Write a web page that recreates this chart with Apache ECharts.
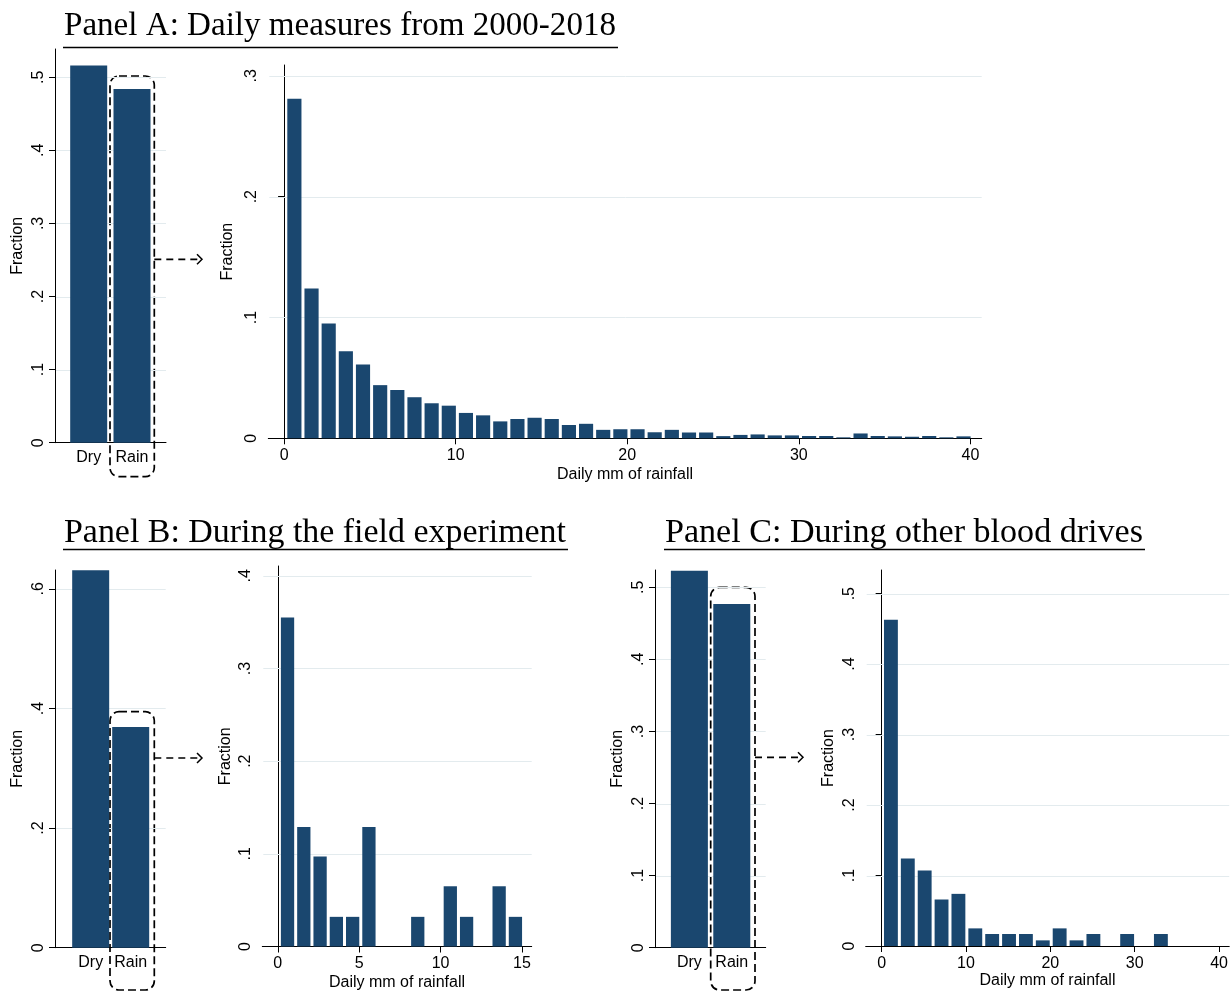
<!DOCTYPE html>
<html>
<head>
<meta charset="utf-8">
<script src="https://cdn.jsdelivr.net/npm/echarts@6/dist/echarts.min.js"></script>
<style>
  html, body { margin: 0; padding: 0; background: #ffffff; }
  #chart { width: 1231px; height: 992px; }
</style>
</head>
<body>
<div id="chart"></div>
<script>
// ---- Data -------------------------------------------------------------
// Share of days that were dry vs. rainy
const dayTypes = ['Dry', 'Rain'];
const shareA = [0.516, 0.484];   // 2000-2018
const shareB = [0.631, 0.369];   // field experiment
const shareC = [0.523, 0.477];   // other blood drives

// Distribution of rainfall (mm) on rainy days
const binStartA = 0.1, binWidthA = 1;
const histA = [0.281, 0.124, 0.095, 0.072, 0.061, 0.044, 0.040, 0.034, 0.029, 0.027,
               0.021, 0.019, 0.014, 0.016, 0.017, 0.016, 0.011, 0.012, 0.007, 0.0075,
               0.0075, 0.005, 0.007, 0.0048, 0.0048, 0.0018, 0.0028, 0.0032, 0.0024, 0.0024,
               0.0019, 0.0019, 0.0008, 0.004, 0.0019, 0.0016, 0.0013, 0.0019, 0.0008, 0.0016];

const binStartB = 0.1, binWidthB = 1;
const histB = [0.355, 0.129, 0.097, 0.032, 0.032, 0.129, 0, 0, 0.032, 0, 0.065, 0.032, 0, 0.065, 0.032];

const binStartC = 0.1, binWidthC = 2;
const histC = [0.463, 0.124, 0.107, 0.066, 0.074, 0.025, 0.017, 0.017, 0.017, 0.008,
               0.025, 0.008, 0.017, 0, 0.017, 0, 0.017];

// Axis tick values
const yTicksBarsA = [0, 0.1, 0.2, 0.3, 0.4, 0.5];
const yTicksHistA = [0, 0.1, 0.2, 0.3];
const yTicksBarsB = [0, 0.2, 0.4, 0.6];
const yTicksHistB = [0, 0.1, 0.2, 0.3, 0.4];
const yTicksBarsC = [0, 0.1, 0.2, 0.3, 0.4, 0.5];
const yTicksHistC = [0, 0.1, 0.2, 0.3, 0.4, 0.5];
const xTicksHistA = [0, 10, 20, 30, 40];
const xTicksHistB = [0, 5, 10, 15];
const xTicksHistC = [0, 10, 20, 30, 40];

const titles = [
  'Panel A: Daily measures from 2000-2018',
  'Panel B: During the field experiment',
  'Panel C: During other blood drives'
];

// ---- Styling ----------------------------------------------------------
const NAVY = '#1a476f';
const GRID_COLOR = '#e3ebee';
const SANS = '"Liberation Sans", Arial, Helvetica, sans-serif';
const SERIF = '"Liberation Serif", "Times New Roman", serif';
const FS = 16;

// Plot areas (px) and axis extents for the six panels
const layout = [
  { grid: { left: 55,    top: 49,  width: 111,   height: 393.7 }, x: [0.222, 2.785], yMax: 0.5387 },
  { grid: { left: 268.3, top: 65,  width: 713.4, height: 373.3 }, x: [-0.92, 40.66], yMax: 0.309 },
  { grid: { left: 55,    top: 570, width: 110.7, height: 377.7 }, x: [0.108, 2.875], yMax: 0.6316 },
  { grid: { left: 262.3, top: 566, width: 269.4, height: 382.3 }, x: [-0.95, 15.6],  yMax: 0.4106 },
  { grid: { left: 655,   top: 570, width: 110.7, height: 377.7 }, x: [0.189, 2.80],  yMax: 0.524 },
  { grid: { left: 865.7, top: 570, width: 364.3, height: 376 },   x: [-1.89, 41.2],  yMax: 0.5336 }
];

const fracLabel = v => (v === 0 ? '0' : String(v).replace(/^0\./, '.'));
const textStyle = { color: '#000', fontFamily: SANS, fontSize: FS };

function yAxis(i, ticks) {
  return {
    type: 'value', gridIndex: i, min: 0, max: layout[i].yMax,
    axisLine: { show: true, lineStyle: { color: '#000', width: 1 } },
    axisTick: { show: true, length: 6, customValues: ticks, lineStyle: { color: '#000', width: 1 } },
    axisLabel: Object.assign({ rotate: 90, customValues: ticks, formatter: fracLabel, margin: 8.5 }, textStyle),
    splitLine: { show: false },
    name: 'Fraction', nameLocation: 'middle', nameRotate: 90, nameGap: 29,
    nameTextStyle: textStyle
  };
}

function xAxisBars(i) {
  return {
    type: 'value', gridIndex: i, min: layout[i].x[0], max: layout[i].x[1],
    axisLine: { show: true, lineStyle: { color: '#000', width: 1 } },
    axisTick: { show: false },
    axisLabel: Object.assign({ customValues: [1, 2], formatter: v => dayTypes[v - 1], margin: 7 }, textStyle),
    splitLine: { show: false }
  };
}

function xAxisHist(i, ticks, nameGap) {
  return {
    type: 'value', gridIndex: i, min: layout[i].x[0], max: layout[i].x[1],
    axisLine: { show: true, lineStyle: { color: '#000', width: 1 } },
    axisTick: { show: true, length: 6, customValues: ticks, lineStyle: { color: '#000', width: 1 } },
    axisLabel: Object.assign({ customValues: ticks, formatter: v => String(v), margin: 9.5 }, textStyle),
    splitLine: { show: false },
    name: 'Daily mm of rainfall', nameLocation: 'middle', nameGap: nameGap,
    nameTextStyle: textStyle
  };
}

// Horizontal reference lines at each labelled tick above zero
function gridLines(i, ticks) {
  return {
    type: 'custom', xAxisIndex: i, yAxisIndex: i, silent: true, z: 1, clip: false,
    data: ticks.filter(v => v > 0).map(v => [layout[i].x[0], v]),
    encode: { x: 0, y: 1 },
    renderItem: (params, api) => {
      const y = Math.round(api.coord([api.value(0), api.value(1)])[1]) + 0.5;
      const cs = params.coordSys;
      return { type: 'line', shape: { x1: cs.x + 1, y1: y, x2: cs.x + cs.width, y2: y },
               style: { stroke: GRID_COLOR, lineWidth: 1 } };
    }
  };
}

// Dry / Rain bars
function shareBars(i, values) {
  return {
    type: 'custom', xAxisIndex: i, yAxisIndex: i, silent: true, z: 2,
    data: values.map((v, k) => [k + 1, v]),
    encode: { x: 0, y: 1 },
    renderItem: (params, api) => {
      const top = api.coord([api.value(0), api.value(1)]);
      const base = api.coord([api.value(0), 0]);
      return { type: 'rect', shape: { x: top[0] - 18.5, y: top[1], width: 37, height: base[1] - top[1] },
               style: { fill: NAVY } };
    }
  };
}

// Rainfall histogram bars
function histBars(i, values, start, width) {
  return {
    type: 'custom', xAxisIndex: i, yAxisIndex: i, silent: true, z: 2,
    data: values.map((v, k) => [start + k * width, start + (k + 1) * width, v]),
    encode: { x: [0, 1], y: 2 },
    renderItem: (params, api) => {
      if (!(api.value(2) > 0)) return null;
      const a = api.coord([api.value(0), 0]);
      const b = api.coord([api.value(1), api.value(2)]);
      return { type: 'rect', shape: { x: a[0] + 1.5, y: b[1], width: b[0] - a[0] - 3, height: a[1] - b[1] },
               style: { fill: NAVY } };
    }
  };
}

// Panel headings with a rule underneath; each heading is fitted to its rule length
const measureCtx = document.createElement('canvas').getContext('2d');
const TITLE_FONT = '33.5px ' + SERIF;
measureCtx.font = TITLE_FONT;
function heading(text, x, midY, ruleY, ruleEnd) {
  const w = measureCtx.measureText(text).width;
  const target = ruleEnd - x - 2;
  return [
    { type: 'text', x: x, y: midY, scaleX: target / w, silent: true,
      style: { text: text, font: TITLE_FONT, fill: '#000', verticalAlign: 'middle', align: 'left' } },
    { type: 'line', silent: true,
      shape: { x1: x - 1, y1: ruleY, x2: ruleEnd, y2: ruleY },
      style: { stroke: '#000', lineWidth: 1.5 } }
  ];
}

// Dashed call-out around the rainy share, with an arrow to its histogram
const DASH = [8, 4];
function callout(box, arrowY, tipX) {
  return [
    { type: 'rect', silent: true, shape: Object.assign({ r: 9 }, box),
      style: { fill: 'none', stroke: '#000', lineWidth: 1.7, lineDash: DASH } },
    { type: 'line', silent: true,
      shape: { x1: box.x + box.width, y1: arrowY, x2: tipX - 1, y2: arrowY },
      style: { stroke: '#000', lineWidth: 1.7, lineDash: [7, 5] } },
    { type: 'polyline', silent: true,
      shape: { points: [[tipX - 5, arrowY - 5], [tipX, arrowY], [tipX - 5, arrowY + 5]] },
      style: { fill: 'none', stroke: '#000', lineWidth: 1.5 } }
  ];
}

const option = {
  animation: false,
  backgroundColor: '#ffffff',
  grid: layout.map(p => Object.assign({ containLabel: false }, p.grid)),
  xAxis: [
    xAxisBars(0), xAxisHist(1, xTicksHistA, 28.5),
    xAxisBars(2), xAxisHist(3, xTicksHistB, 28.5),
    xAxisBars(4), xAxisHist(5, xTicksHistC, 26.5)
  ],
  yAxis: [
    yAxis(0, yTicksBarsA), yAxis(1, yTicksHistA),
    yAxis(2, yTicksBarsB), yAxis(3, yTicksHistB),
    yAxis(4, yTicksBarsC), yAxis(5, yTicksHistC)
  ],
  series: [
    gridLines(0, yTicksBarsA), gridLines(1, yTicksHistA),
    gridLines(2, yTicksBarsB), gridLines(3, yTicksHistB),
    gridLines(4, yTicksBarsC), gridLines(5, yTicksHistC),
    shareBars(0, shareA), histBars(1, histA, binStartA, binWidthA),
    shareBars(2, shareB), histBars(3, histB, binStartB, binWidthB),
    shareBars(4, shareC), histBars(5, histC, binStartC, binWidthC)
  ],
  graphic: { elements: [].concat(
    heading(titles[0], 64, 26.5, 47.5, 618),
    heading(titles[1], 64, 533, 549.5, 568),
    heading(titles[2], 665, 533, 549.5, 1145),
    callout({ x: 110, y: 76, width: 44.3, height: 400.7 }, 259.3, 202),
    callout({ x: 110, y: 711.7, width: 44.3, height: 278.3 }, 758, 202),
    callout({ x: 710.7, y: 587.3, width: 44.3, height: 402.7 }, 757.3, 803)
  ) }
};

const chart = echarts.init(document.getElementById('chart'), null, { renderer: 'canvas' });
chart.setOption(option);
</script>
</body>
</html>
